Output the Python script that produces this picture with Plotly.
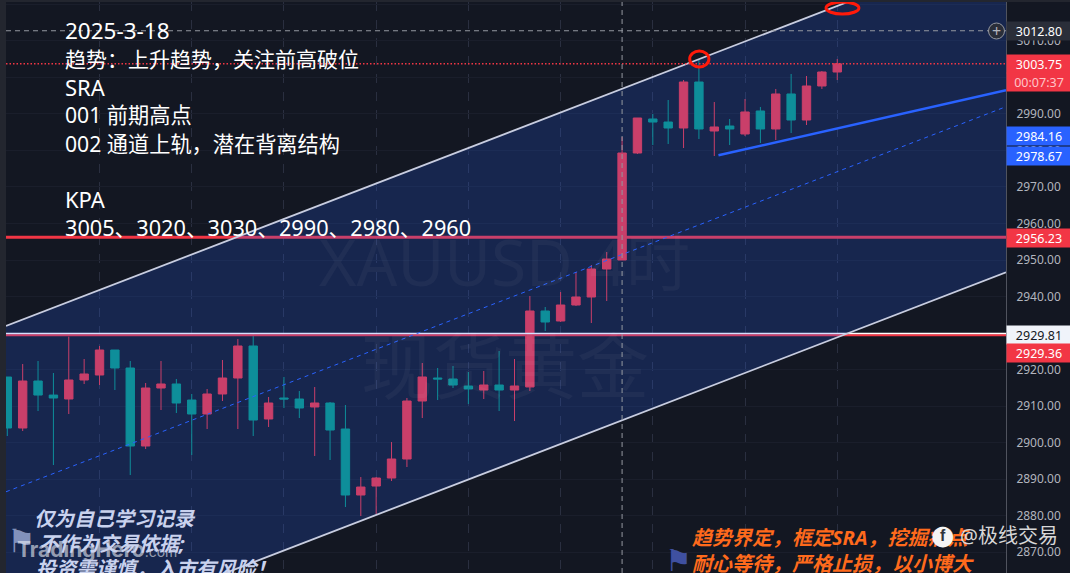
import plotly.graph_objects as go

# --- 4-hour XAUUSD candles, values ---
bar_index = list(range(55))
opens = [2917.94, 2903.97, 2916.85, 2913.00, 2911.92, 2917.12, 2918.49, 2925.34, 2920.41, 2899.04,
         2914.93, 2916.03, 2911.64, 2907.81, 2913.29, 2917.67, 2926.44, 2906.44, 2912.19, 2911.92,
         2909.73, 2910.82, 2903.70, 2885.62, 2888.08, 2890.27, 2895.48, 2911.37, 2917.67, 2917.40,
         2915.48, 2914.38, 2915.75, 2914.38, 2915.21, 2936.03, 2933.29, 2937.67, 2939.86, 2947.53,
         2950.00, 2979.31, 2988.63, 2987.80, 2986.16, 2998.76, 2985.34, 2986.71, 2984.52, 2990.82,
         2985.89, 2995.48, 2988.35, 2997.67, 3001.50]
highs = [2917.94, 2921.50, 2922.33, 2919.04, 2929.00, 2922.88, 2926.44, 2925.34, 2922.33, 2916.30,
         2922.33, 2917.40, 2913.29, 2914.66, 2922.60, 2928.35, 2929.90, 2912.47, 2917.94, 2914.11,
         2915.20, 2911.10, 2910.27, 2890.54, 2890.54, 2900.13, 2912.19, 2921.78, 2920.41, 2920.96,
         2919.32, 2919.59, 2925.07, 2922.88, 2940.14, 2937.12, 2941.23, 2946.71, 2948.63, 2952.19,
         2983.70, 2988.90, 2990.00, 2993.83, 2999.31, 3004.79, 2993.28, 2988.63, 2994.11, 2991.92,
         2996.85, 3000.96, 3000.41, 3001.78, 3005.07]
lows = [2901.78, 2903.15, 2908.63, 2893.83, 2907.81, 2916.03, 2915.75, 2914.38, 2891.09, 2898.22,
        2908.90, 2908.08, 2896.57, 2903.70, 2911.37, 2903.70, 2901.78, 2904.25, 2909.45, 2906.71,
        2896.30, 2895.20, 2882.33, 2879.86, 2880.41, 2889.45, 2893.28, 2906.71, 2911.64, 2914.93,
        2910.55, 2911.92, 2908.63, 2905.89, 2914.11, 2930.55, 2933.01, 2937.40, 2932.74, 2938.77,
        2950.00, 2979.04, 2981.50, 2981.78, 2980.68, 2983.15, 2978.49, 2981.50, 2983.97, 2982.05,
        2982.87, 2984.79, 2986.98, 2996.85, 2999.31]
closes = [2903.97, 2916.85, 2913.00, 2912.19, 2917.12, 2918.77, 2925.34, 2920.41, 2899.04, 2914.93,
          2916.03, 2910.82, 2907.81, 2913.29, 2917.67, 2926.44, 2906.16, 2910.82, 2911.92, 2909.45,
          2910.82, 2903.42, 2885.62, 2887.80, 2890.27, 2895.48, 2911.37, 2917.95, 2917.40, 2915.75,
          2914.66, 2915.75, 2914.38, 2915.48, 2936.03, 2933.01, 2937.67, 2939.86, 2947.53, 2950.27,
          2979.31, 2988.90, 2987.80, 2986.16, 2998.76, 2985.89, 2986.44, 2985.89, 2990.55, 2985.89,
          2995.48, 2988.35, 2997.67, 3001.50, 3003.75]

# --- drawings (bar index, price) ---
view_bars = [-0.085, 64.98]
view_prices = [2864.25, 3020.68]
channel_upper = [2931.92, 3037.40]
channel_middle = [2886.50, 2992.00]
channel_lower = [2841.10, 2946.60]
rising_line_bars = [46.27, 64.98]
rising_line_prices = [2978.67, 2996.48]
level_red = 2956.23
level_pink = 2929.36
level_white = 2929.81
last_price = 3003.75
cross_bar = 40
cross_price = 3012.80
circle_a = dict(x0=44.4, x1=45.65, y0=3002.88, y1=3007.26)
circle_b = dict(x0=53.27, x1=55.41, y0=3017.40, y1=3020.68)
price_ticks = list(range(2870, 3030, 10))
time_grid = list(range(6, 60, 6))

# --- texts ---
note_lines = [("2025-3-18", 22.5), ("趋势：上升趋势，关注前高破位", 21), ("SRA", 22), ("001 前期高点", 21.2),
              ("002 通道上轨，潜在背离结构", 21.2), ("KPA", 22), ("3005、3020、3030、2990、2980、2960", 21.7)]
note_rows = [0, 1, 2, 3, 4, 6, 7]
left_slogans = [("仅为自己学习记录", 32, 518), ("不作为交易依据;", 37, 543), ("投资需谨慎，入市有风险！", 34, 568)]
right_slogans = [("趋势界定，框定SRA，挖掘痛点", 690, 537), ("耐心等待，严格止损，以小博大", 690, 563)]
price_badges = [
    ("3012.80", 31, "#2a2e39", "#ffffff", 18),
    ("3003.75", 64, "#f23645", "#ffffff", 18),
    ("00:07:37", 81.5, "#f23645", "#ffc4c8", 18),
    ("2984.16", 135.5, "#2962ff", "#ffffff", 18),
    ("2978.67", 156, "#2962ff", "#ffffff", 18),
    ("2956.23", 238, "#f23645", "#ffffff", 18),
    ("2929.81", 334.5, "#f0f3fa", "#131722", 18),
    ("2929.36", 352.5, "#f23645", "#ffffff", 18),
]

W, H = 1070, 573
ML, MR, MT, MB = 6, 64, 2, 0
PW, PH = W - ML - MR, H - MT - MB
px = lambda x: (x - ML) / PW
py = lambda y: 1 - (y - MT) / PH
CJK = "Noto Sans, Noto Sans CJK SC, sans-serif"

fig = go.Figure()
fig.add_trace(go.Candlestick(
    x=bar_index, open=opens, high=highs, low=lows, close=closes,
    increasing=dict(line=dict(color="#f23645", width=1), fillcolor="#f23645"),
    decreasing=dict(line=dict(color="#089981", width=1), fillcolor="#089981"),
    whiskerwidth=0, hoverinfo="skip", showlegend=False))


def line(xs, ys, color, width, dash="solid"):
    fig.add_trace(go.Scatter(x=xs, y=ys, mode="lines", hoverinfo="skip", showlegend=False,
                             line=dict(color=color, width=width, dash=dash)))


line(view_bars, [level_red] * 2, "#f23645", 3)
line(view_bars, [level_white] * 2, "#ffffff", 2)
line(view_bars, [level_pink] * 2, "#f23645", 2)

fig.add_trace(go.Scatter(
    x=[view_bars[0], view_bars[1], view_bars[1], view_bars[0], view_bars[0]],
    y=[channel_upper[0], channel_upper[1], channel_lower[1], channel_lower[0], channel_upper[0]],
    mode="none", fill="toself", fillcolor="rgba(41,98,255,0.2)", hoverinfo="skip", showlegend=False))
line(view_bars, channel_upper, "#c8cde0", 1.8)
line(view_bars, channel_lower, "#c8cde0", 1.8)
line(view_bars, channel_middle, "#2962ff", 1, "4px,4px")
line(rising_line_bars, rising_line_prices, "#2962ff", 2.5)
line(view_bars, [last_price] * 2, "#f23645", 1.4, "1.5px,2px")
line([cross_bar, cross_bar], view_prices, "#9598a1", 1, "5px,4px")
line(view_bars, [cross_price] * 2, "#9598a1", 1, "5px,4px")

shapes = [
    dict(type="rect", xref="paper", yref="paper", x0=1, x1=px(W), y0=0, y1=py(MT),
         fillcolor="#131722", line_width=0, layer="below"),
    dict(type="circle", xref="x", yref="y", line=dict(color="#ff1a0a", width=3), **circle_a),
    dict(type="circle", xref="x", yref="y", line=dict(color="#ff1a0a", width=3), **circle_b),
    dict(type="circle", xref="paper", yref="paper", x0=px(988.5), x1=px(1004.5), y0=py(39), y1=py(23),
         fillcolor="#2a2e39", line=dict(color="#9598a1", width=1)),
]

ann = []


def text(s, x, y, size, color, xanchor="left", yanchor="middle", family=CJK):
    ann.append(dict(text=s, xref="paper", yref="paper", x=px(x), y=py(y), xanchor=xanchor, yanchor=yanchor,
                    showarrow=False, align="left", font=dict(size=size, color=color, family=family)))


# watermarks
text("XAUUSD 4时", 504, 262, 64, "rgba(255,255,255,0.04)", "center")
text("现货黄金", 505, 365, 72, "rgba(255,255,255,0.04)", "center")
# notes
for (s, size), row in zip(note_lines, note_rows):
    text(s, 63, 31 + 28 * row, size, "#ffffff")
# slogans and logos
text("⚑", 5, 541, 32, "#8291bb", family="DejaVu Sans")
text("<b>TradingHero</b><span style='font-size:14px'>.com</span>", 15, 549, 21, "rgba(235,238,245,0.62)",
     family="Inter, sans-serif")
for s, x, y in left_slogans:
    text(f"<b><i>{s}</i></b>", x, y, 20, "#c9d2ee")
text("⚑", 663, 560, 30, "#3f50a0", family="DejaVu Sans")
for s, x, y in right_slogans:
    text(f"<b><i>{s}</i></b>", x, y, 20, "#ff6a1c")
text("●", 942.5, 534, 27, "#f4f4f4", "center", family="DejaVu Sans")
text("<b>f</b>", 942.5, 535.5, 16, "#30343c", "center", family="Liberation Sans")
text("@极线交易", 958, 535, 20, "#d8d8d8")
text("+", 996.5, 30.5, 16, "#b2b5be", "center")
# price badges
for s, y, bg, fg, h in price_badges:
    ann.append(dict(text=s, xref="paper", yref="paper", x=1, y=py(y), xanchor="left", yanchor="middle",
                    showarrow=False, width=MR, height=h, bgcolor=bg, borderpad=0, xshift=0, align="center",
                    font=dict(size=12.5, color=fg, family="Noto Sans, sans-serif")))

fig.update_layout(
    width=W, height=H, margin=dict(l=ML, r=MR, t=MT, b=MB, pad=0),
    paper_bgcolor="#23262f", plot_bgcolor="#131722", showlegend=False, hovermode=False,
    dragmode=False, shapes=shapes, annotations=ann, boxgap=0.22,
    xaxis=dict(range=view_bars, rangeslider_visible=False, tickmode="array", tickvals=time_grid,
               showticklabels=False, ticks="", showgrid=True, griddash="dash",
               gridcolor="#2a2f40", gridwidth=1, zeroline=False, showline=False),
    yaxis=dict(range=view_prices, side="right", tickmode="array", tickvals=price_ticks,
               tickformat=".2f", ticks="outside", ticklen=7, tickcolor="#131722", tickwidth=1,
               showgrid=True, gridcolor="#1a1e2b", gridwidth=1,
               zeroline=False, showline=True, linecolor="#50535e", linewidth=1,
               tickfont=dict(size=12, color="#b2b5be", family="Noto Sans, sans-serif")),
)

fig.write_html("out.html", config=dict(displayModeBar=False),
               post_script="document.body.style.margin='0';document.body.style.overflow='hidden';")
